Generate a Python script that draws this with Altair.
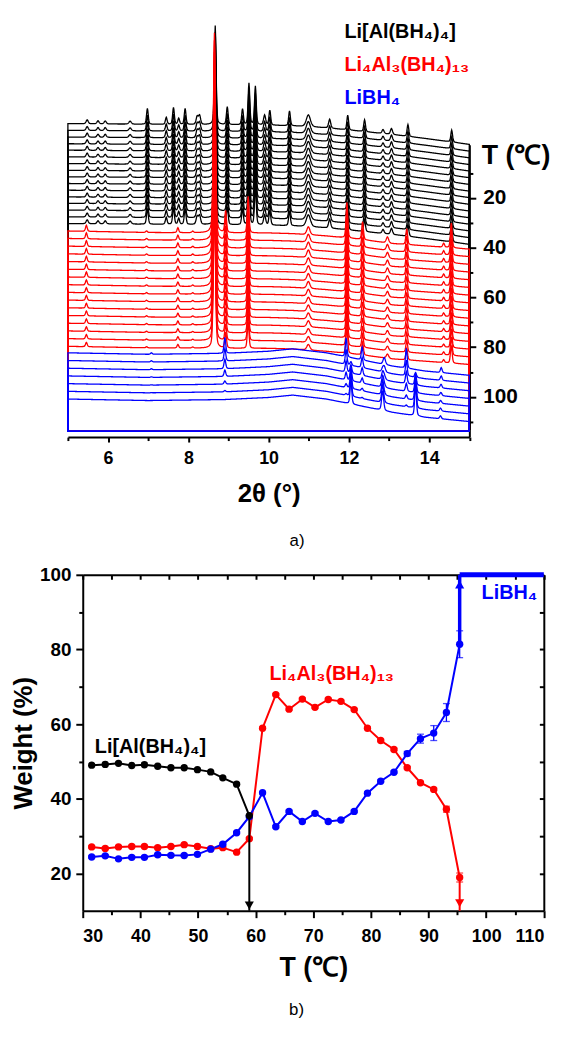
import altair as alt
import numpy as np
import pandas as pd

alt.data_transformers.disable_max_rows()

FONT = "Liberation Sans, Arial, Helvetica, sans-serif"
BLACK, RED, BLUE = "#000000", "#ff0000", "#0000ff"

# ======================= panel a) : in-situ diffraction waterfall =======================
T_top, T_bottom = -1.4, 116.2          # range of right-hand temperature axis
zero_T = 113.9                          # common zero-intensity level of the stack
counts_per_T = 2.51                     # intensity units per degree of stack offset

# offset (temperature-axis value at 2θ = 5°) of every pattern
black_T = [-9.9, -7.2, -4.5, -1.8, 0.8, 3.5, 6.2, 8.9, 11.5, 14.2, 16.9, 19.6, 22.2, 24.9, 27.6, 30.3]
red_T = [33.3, 36.3, 39.4, 42.5, 45.6, 48.7, 51.8, 54.9, 58.0, 61.1, 64.2, 67.3, 70.4, 73.5, 76.6, 79.7]
blue_T = [82.3, 85.4, 88.5, 91.6, 94.7, 97.8, 100.9]

# background shapes (2θ, intensity relative to 2θ = 5°)
bg_tt = [5.0, 7.0, 8.9, 10.0, 10.6, 11.44, 12.26, 13.08, 13.9, 15.0]
black_bg = [0, -0.7, -1.2, -1.6, -2.3, -4.3, -7.6, -11.0, -15.0, -21.0]
red_bg = [0, -1.5, -2.0, -2.0, -2.7, -5.0, -8.3, -12.7, -15.0, -18.3]
blue_bg = [0, -1.5, -0.5, 1.6, 4.0, 0.0, -6.7, -13.4, -18.4, -22.7]

# Bragg peaks: position (°2θ), height, FWHM (°)
black_pk_pos = [5.48, 5.75, 5.93, 6.55, 6.98, 7.45, 7.63, 7.76, 7.92, 8.22, 8.28, 8.67, 8.97, 9.35,
                9.51, 9.67, 9.90, 10.03, 10.52, 10.99, 11.52, 11.97, 12.39, 12.85, 13.06, 13.47, 14.56]
black_pk_h = [4, 3, 3, 3, 16, 7, 17, 6, 16, 8, 9, 100, 18, 16, 42, 39, 10, 15, 15, 12, 9, 15, 12, 4, 6, 12, 12]
black_pk_w = [0.06, 0.06, 0.06, 0.07, 0.05, 0.05, 0.05, 0.05, 0.05, 0.06, 0.06, 0.05, 0.05, 0.05,
              0.05, 0.05, 0.06, 0.05, 0.05, 0.12, 0.06, 0.05, 0.05, 0.06, 0.06, 0.05, 0.05]

red_pk_pos = [5.46, 6.96, 7.74, 8.11, 8.65, 8.93, 9.49, 10.99, 11.95, 12.34, 12.96, 13.44, 14.36, 14.55]
red_pk_h = [6, 1.5, 5, 1.5, 202, 22, 37, 8, 36, 18, 6, 16, 4, 25]
red_pk_w = [0.05, 0.05, 0.05, 0.05, 0.06, 0.05, 0.05, 0.09, 0.05, 0.05, 0.07, 0.05, 0.05, 0.05]
red_scale = [1.0, 1.0, 0.98, 0.96, 0.94, 0.92, 0.9, 0.88, 0.86, 0.84, 0.82, 0.8, 0.78, 0.76, 0.74, 0.72]

blueA_pk_pos = [7.08, 8.91, 11.93, 12.33, 12.88, 13.43, 14.30]
blueA_pk_h = [1.5, 16, 19, 13, 7, 20, 5]
blueA_pk_w = [0.05, 0.05, 0.05, 0.05, 0.07, 0.05, 0.05]
blueA_scale = [1.0, 0.8, 0.6, 0.4, 0.2, 0.08, 0.0]
blueB_pk_pos = [12.05, 12.84, 13.66, 14.28]
blueB_pk_h = [24, 20, 32, 3]
blueB_pk_w = [0.05, 0.06, 0.05, 0.05]
blueB_scale = [0.0, 0.15, 0.35, 0.55, 0.75, 0.9, 1.0]

tt_ticks_major = [6, 8, 10, 12, 14]
tt_ticks_minor = [5, 7, 9, 11, 13, 15]
Ta_ticks_major = [20, 40, 60, 80, 100]
Ta_ticks_minor = [10, 30, 50, 70, 90, 110]

phase_labels = ["Li[Al(BH₄)₄]", "Li₄Al₃(BH₄)₁₃", "LiBH₄"]
phase_colors = [BLACK, RED, BLUE]
label_a_tt = [11.89, 11.89, 11.89]
label_a_T = [-44.4, -31.1, -17.8]

# ======================= panel b) : phase fractions =======================
T_pts = [31.55, 33.9, 36.2, 38.5, 40.7, 43.0, 45.3, 47.6, 49.9, 52.2, 54.3, 56.7, 58.9, 61.2, 63.5,
         65.8, 68.1, 70.3, 72.6, 74.8, 77.1, 79.4, 81.7, 84.0, 86.3, 88.6, 90.9, 93.1, 95.4]
W_black = [49.0, 49.2, 49.5, 48.9, 49.1, 48.7, 48.3, 48.3, 47.8, 47.2, 45.6, 43.9, 35.5]
W_red = [27.1, 26.7, 27.1, 27.2, 27.2, 26.9, 27.2, 27.7, 27.2, 26.6, 26.9, 25.7, 29.3, 58.9, 67.9,
         64.0, 66.7, 64.5, 66.6, 66.1, 63.9, 58.9, 55.6, 53.2, 48.3, 44.3, 42.5, 37.2, 18.9]
W_blue = [24.4, 24.7, 23.9, 24.3, 24.3, 25.0, 24.85, 24.8, 25.1, 26.5, 27.8, 30.9, 35.2, 41.6, 32.5,
          36.6, 33.9, 36.1, 33.9, 34.3, 36.6, 41.5, 44.7, 47.1, 52.1, 56.1, 57.6, 63.1, 81.4]
E_red = [0.3] * 27 + [0.8, 1.2]
E_blue = [0.3] * 24 + [0.6, 1.2, 2.0, 2.4, 3.6]

# arrows: temperature, start weight, end weight
arrow_T = [58.9, 95.4, 95.4]
arrow_from = [35.5, 18.9, 81.4]
arrow_to = [10.0, 10.0, 100.0]
head_W = [11.4, 12.0, 97.4]
plateau_T = [95.4, 110.0]
plateau_W = [100.0, 100.0]

Tb_major = [30, 40, 50, 60, 70, 80, 90, 100, 110]
Tb_minor = [35, 45, 55, 65, 75, 85, 95, 105]
Tb_mirror = [30, 35, 40, 45, 50, 55, 60, 65, 70, 75, 80, 85, 90, 95, 100, 105, 110]
Wb_major = [20, 40, 60, 80, 100]
Wb_minor = [30, 50, 70, 90]
Wb_mirror = [20, 30, 40, 50, 60, 70, 80, 90]

label_b_T = [32.1, 62.4, 99.2]
label_b_W = [52.3, 71.8, 93.6]


# ----------------------------------------------------------------------------------------
grid = np.round(np.arange(5.0, 15.0 + 1e-9, 0.01), 3)


def peaks(pos, h, w, scale):
    out = np.zeros_like(grid)
    eta = 0.35
    for p, hh, ww in zip(pos, h, w):
        u = (grid - p) / (ww / 2.0)
        out += scale * hh * (eta / (1 + u * u) + (1 - eta) * np.exp(-np.log(2) * u * u))
    return out


def stack(offsets, bg, pk_sets, prefix):
    frames = []
    base = np.interp(grid, bg_tt, bg)
    for i, T0 in enumerate(offsets):
        inten = base.copy()
        for pos, h, w, sc in pk_sets:
            inten += peaks(pos, h, w, sc[i])
        frames.append(pd.DataFrame({"tt": grid, "T": np.round(T0 - inten / counts_per_T, 3),
                                    "trace": f"{prefix}{i:02d}"}))
    return pd.concat(frames, ignore_index=True)


df_black = stack(black_T, black_bg, [(black_pk_pos, black_pk_h, black_pk_w, [1.0] * len(black_T))], "k")
df_red = stack(red_T, red_bg, [(red_pk_pos, red_pk_h, red_pk_w, red_scale)], "r")
df_blue = stack(blue_T, blue_bg, [(blueA_pk_pos, blueA_pk_h, blueA_pk_w, blueA_scale),
                                  (blueB_pk_pos, blueB_pk_h, blueB_pk_w, blueB_scale)], "b")


def ax(**kw):
    base = dict(domainColor="black", domainWidth=2, tickColor="black", tickWidth=2, labelFont=FONT,
                labelFontSize=18, labelFontWeight="bold", labelColor="black", titleFont=FONT,
                titleFontWeight="bold", titleColor="black", grid=False)
    base.update(kw)
    return alt.Axis(**base)


xa = alt.Scale(domain=[5, 15], nice=False, zero=False)
ya = alt.Scale(domain=[T_top, T_bottom], nice=False, zero=False, reverse=True)
WA, HA = 405.5, 295.3


def trace_layer(df, color, xaxis, yaxis):
    return alt.Chart(df).mark_area(fillOpacity=0, stroke=color, strokeWidth=1.3, interpolate="linear").encode(
        x=alt.X("tt:Q", scale=xa, axis=xaxis),
        y=alt.Y("T:Q", scale=ya, stack=None, axis=yaxis),
        y2=alt.Y2Datum(zero_T),
        detail="trace:N",
    )


xa_major = ax(orient="bottom", values=tt_ticks_major, format="d", tickSize=5, labelPadding=8,
              labelFontSize=18, title="2θ (°)", titleFontSize=26, titlePadding=13)
ya_major = ax(orient="right", values=Ta_ticks_major, format="d", tickSize=6.5, labelPadding=7,
              labelFontSize=21, title="T (℃)", titleAngle=0, titleX=12, titleY=11, titleAlign="left",
              titleBaseline="middle", titleFontSize=27)
xa_minor = ax(orient="bottom", values=tt_ticks_minor, tickSize=3.5, labels=False, domain=False, title=None)
ya_minor = ax(orient="right", values=Ta_ticks_minor, tickSize=3.5, labels=False, domain=False, title=None)

layer_black = trace_layer(df_black, BLACK, xa_major, ya_major)
layer_red = trace_layer(df_red, RED, xa_minor, ya_minor)
layer_blue = trace_layer(df_blue, BLUE, None, None)

df_lab_a = pd.DataFrame({"tt": label_a_tt, "T": label_a_T, "txt": phase_labels, "c": phase_colors})
labels_a = alt.Chart(df_lab_a).mark_text(align="left", baseline="alphabetic", font=FONT, fontSize=20,
                                         fontWeight="bold").encode(
    x=alt.X("tt:Q", scale=xa, axis=None),
    y=alt.Y("T:Q", scale=ya, axis=None),
    text="txt:N",
    color=alt.Color("c:N", scale=None),
)
cap_a = alt.Chart(pd.DataFrame({"t": ["a)"]})).mark_text(font=FONT, fontSize=17, baseline="middle",
                                                         align="center", color="black").encode(
    x=alt.value(231.5), y=alt.value(400.5), text="t:N")

top = alt.layer(layer_black, layer_red, layer_blue, labels_a, cap_a).resolve_axis(
    x="independent", y="independent").properties(width=WA, height=HA)

# ----------------------------------------------------------------------------------------
xb = alt.Scale(domain=[30, 110], nice=False, zero=False)
yb = alt.Scale(domain=[10, 100], nice=False, zero=False)
WB, HB = 465.7, 339.3

df_b_black = pd.DataFrame({"T": T_pts[:len(W_black)], "W": W_black})
df_b_red = pd.DataFrame({"T": T_pts, "W": W_red, "lo": np.array(W_red) - np.array(E_red),
                         "hi": np.array(W_red) + np.array(E_red)})
df_b_blue = pd.DataFrame({"T": T_pts, "W": W_blue, "lo": np.array(W_blue) - np.array(E_blue),
                          "hi": np.array(W_blue) + np.array(E_blue)})

xb_main = ax(orient="bottom", values=Tb_major, format="d", tickSize=7, labelPadding=10,
             labelFontSize=18, title="T (℃)", titleFontSize=27, titlePadding=9)
yb_main = ax(orient="left", values=Wb_major, format="d", tickSize=7, labelPadding=5,
             labelFontSize=19, title="Weight (%)", titleFontSize=26, titlePadding=3)
xb_minor = ax(orient="bottom", values=Tb_minor, tickSize=4, labels=False, domain=False, title=None)
yb_minor = ax(orient="left", values=Wb_minor, tickSize=4, labels=False, domain=False, title=None)
xb_mirror = ax(orient="bottom", values=Tb_mirror, tickSize=4.5, labels=False, title=None, offset=-HB)
yb_mirror = ax(orient="left", values=Wb_mirror, tickSize=4.5, labels=False, title=None, offset=-WB)


def enc(xaxis=None, yaxis=None, yfield="W"):
    return dict(x=alt.X("T:Q", scale=xb, axis=xaxis), y=alt.Y(f"{yfield}:Q", scale=yb, axis=yaxis))


line_red = alt.Chart(df_b_red).mark_line(color=RED, strokeWidth=2).encode(**enc(xb_main, yb_main))
line_blue = alt.Chart(df_b_blue).mark_line(color=BLUE, strokeWidth=2).encode(**enc(xb_minor, yb_minor))
line_black = alt.Chart(df_b_black).mark_line(color=BLACK, strokeWidth=2).encode(**enc(xb_mirror, yb_mirror))


def errbars(df, color):
    rule = alt.Chart(df).mark_rule(color=color, strokeWidth=1.3).encode(
        x=alt.X("T:Q", scale=xb, axis=None), y=alt.Y("lo:Q", scale=yb, axis=None), y2="hi:Q")
    caps_hi = alt.Chart(df).mark_tick(color=color, orient="horizontal", size=7, thickness=1.3).encode(
        **enc(yfield="hi"))
    caps_lo = alt.Chart(df).mark_tick(color=color, orient="horizontal", size=7, thickness=1.3).encode(
        **enc(yfield="lo"))
    return [rule, caps_hi, caps_lo]


def pts(df, color):
    return alt.Chart(df).mark_point(filled=True, shape="circle", size=55, color=color, opacity=1).encode(**enc())


df_arrows = pd.DataFrame({"T": arrow_T, "a": arrow_from, "b": arrow_to, "h": head_W,
                          "c": [BLACK, RED, BLUE], "shape": ["triangle-down", "triangle-down", "triangle-up"]})
arrow_lines = alt.Chart(df_arrows).mark_rule(strokeWidth=2).encode(
    x=alt.X("T:Q", scale=xb, axis=None), y=alt.Y("a:Q", scale=yb, axis=None), y2="b:Q",
    color=alt.Color("c:N", scale=None))
blue_arrow = alt.Chart(df_arrows.iloc[[2]]).mark_rule(strokeWidth=3.5, color=BLUE).encode(
    x=alt.X("T:Q", scale=xb, axis=None), y=alt.Y("a:Q", scale=yb, axis=None), y2="b:Q")
heads = alt.Chart(df_arrows).mark_point(filled=True, size=85, opacity=1).encode(
    x=alt.X("T:Q", scale=xb, axis=None), y=alt.Y("h:Q", scale=yb, axis=None),
    color=alt.Color("c:N", scale=None), shape=alt.Shape("shape:N", scale=None))
plateau = alt.Chart(pd.DataFrame({"T": plateau_T, "W": plateau_W})).mark_line(
    color=BLUE, strokeWidth=5).encode(**enc())

df_lab_b = pd.DataFrame({"T": label_b_T, "W": label_b_W, "txt": phase_labels, "c": phase_colors})
labels_b = alt.Chart(df_lab_b).mark_text(align="left", baseline="alphabetic", font=FONT, fontSize=20,
                                         fontWeight="bold").encode(
    **enc(), text="txt:N", color=alt.Color("c:N", scale=None))
cap_b = alt.Chart(pd.DataFrame({"t": ["b)"]})).mark_text(font=FONT, fontSize=17, baseline="middle",
                                                         align="center", color="black").encode(
    x=alt.value(216), y=alt.value(440), text="t:N")

bottom = alt.layer(
    line_red, line_blue, line_black,
    *errbars(df_b_red, RED), *errbars(df_b_blue, BLUE),
    pts(df_b_red, RED), pts(df_b_blue, BLUE), pts(df_b_black, BLACK),
    arrow_lines, blue_arrow, heads, plateau, labels_b, cap_b,
).resolve_axis(x="independent", y="independent").properties(width=WB, height=HB)

spacer = alt.Chart(pd.DataFrame({"v": [0]})).mark_point(opacity=0).encode(
    x=alt.value(0), y=alt.value(0)).properties(width=14.5, height=HB)

chart = alt.vconcat(
    top,
    alt.hconcat(spacer, bottom, spacing=0, bounds="flush"),
    spacing=138.4, bounds="flush",
).properties(padding={"left": 1.5, "top": 8, "right": 0, "bottom": 0}).configure_view(stroke="transparent")

chart.save("out.html", embed_options={"renderer": "svg", "actions": False})
